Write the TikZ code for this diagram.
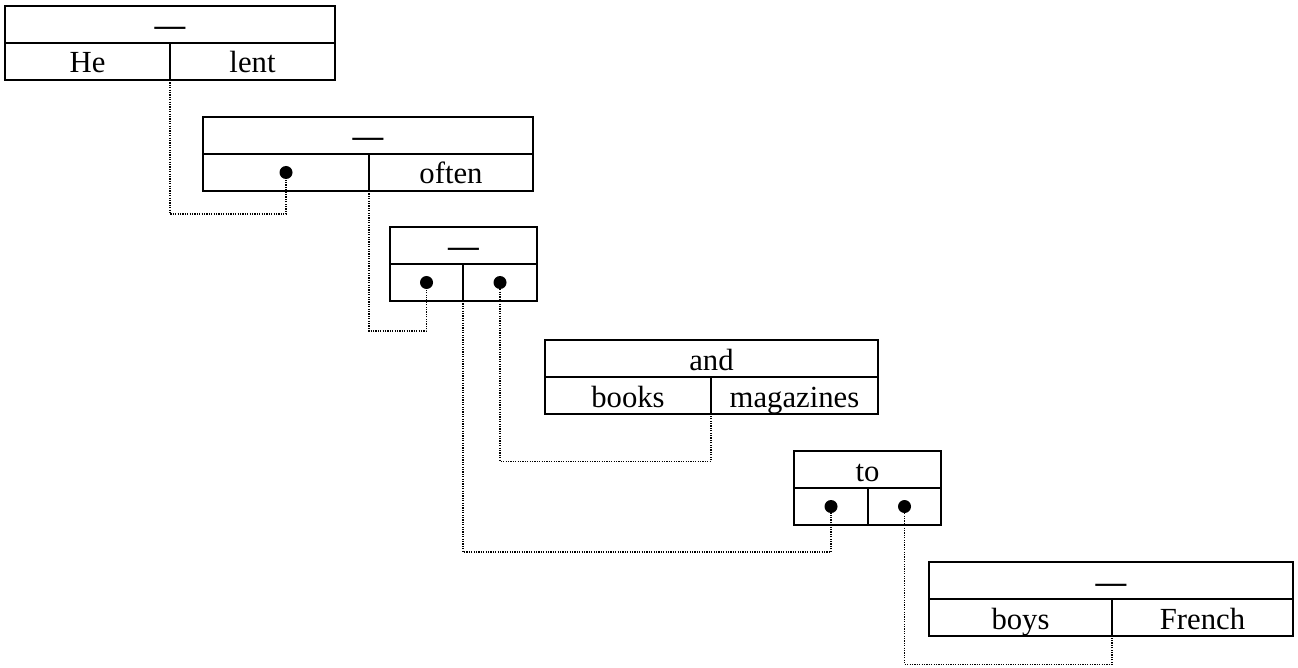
\documentclass[tikz,border=0pt]{standalone}
\usepackage{fontspec}
\setmainfont{Liberation Serif}
\usetikzlibrary{positioning}
\tikzset{
  row/.style={draw,line width=1.3pt,minimum height=37pt,inner sep=0pt,outer sep=0pt,%
    font=\fontsize{30.7pt}{36pt}\selectfont,text height=24.6pt,text depth=1.6pt},
  head/.style={row,anchor=north west},
  slot/.style={circle,fill,inner sep=0pt,minimum size=13pt},
  link/.style={line width=1.2pt,dash pattern=on 1.2pt off 1.2pt},
}
\newcommand{\nil}{\textbf{\textemdash}}
\begin{document}
\begin{tikzpicture}[x=1pt,y=-1pt]
\useasboundingbox (0,0) rectangle (1298,668);
% He lent
\node[head,minimum width=330pt] (a) at (5,6) {\nil};
\node[row,minimum width=165pt,below right=0pt and 0pt of a.south west] (a1) {He};
\node[row,minimum width=165pt,below left=0pt and 0pt of a.south east] (a2) {lent};
% often
\node[head,minimum width=330pt] (b) at (203,117) {\nil};
\node[row,minimum width=166pt,below right=0pt and 0pt of b.south west] (b1) {};
\node[row,minimum width=164pt,below left=0pt and 0pt of b.south east] (b2) {often};
\node[slot] (b1dot) at (b1) {};
% coordination
\node[head,minimum width=147pt] (c) at (390,227) {\nil};
\node[row,minimum width=73pt,below right=0pt and 0pt of c.south west] (c1) {};
\node[row,minimum width=74pt,below left=0pt and 0pt of c.south east] (c2) {};
\node[slot] (c1dot) at (c1) {};
\node[slot] (c2dot) at (c2) {};
% and
\node[head,minimum width=333pt] (d) at (545,340) {and};
\node[row,minimum width=166pt,below right=0pt and 0pt of d.south west] (d1) {books};
\node[row,minimum width=167pt,below left=0pt and 0pt of d.south east] (d2) {magazines};
% to
\node[head,minimum width=147pt] (e) at (794,451) {to};
\node[row,minimum width=74pt,below right=0pt and 0pt of e.south west] (e1) {};
\node[row,minimum width=73pt,below left=0pt and 0pt of e.south east] (e2) {};
\node[slot] (e1dot) at (e1) {};
\node[slot] (e2dot) at (e2) {};
% boys French
\node[head,minimum width=364pt] (f) at (929,562) {\nil};
\node[row,minimum width=183pt,below right=0pt and 0pt of f.south west] (f1) {boys};
\node[row,minimum width=181pt,below left=0pt and 0pt of f.south east] (f2) {French};
% links
\draw[link] (a1.south east) -- ++(0,134) -| (b1dot.south);
\draw[link] (b1.south east) -- ++(0,140) -| (c1dot.south);
\draw[link] (c2dot.south) -- ++(0,172) -| (d1.south east);
\draw[link] (c1.south east) -- ++(0,251) -| (e1dot.south);
\draw[link] (e2dot.south) -- ++(0,151) -| (f1.south east);
\end{tikzpicture}
\end{document}
